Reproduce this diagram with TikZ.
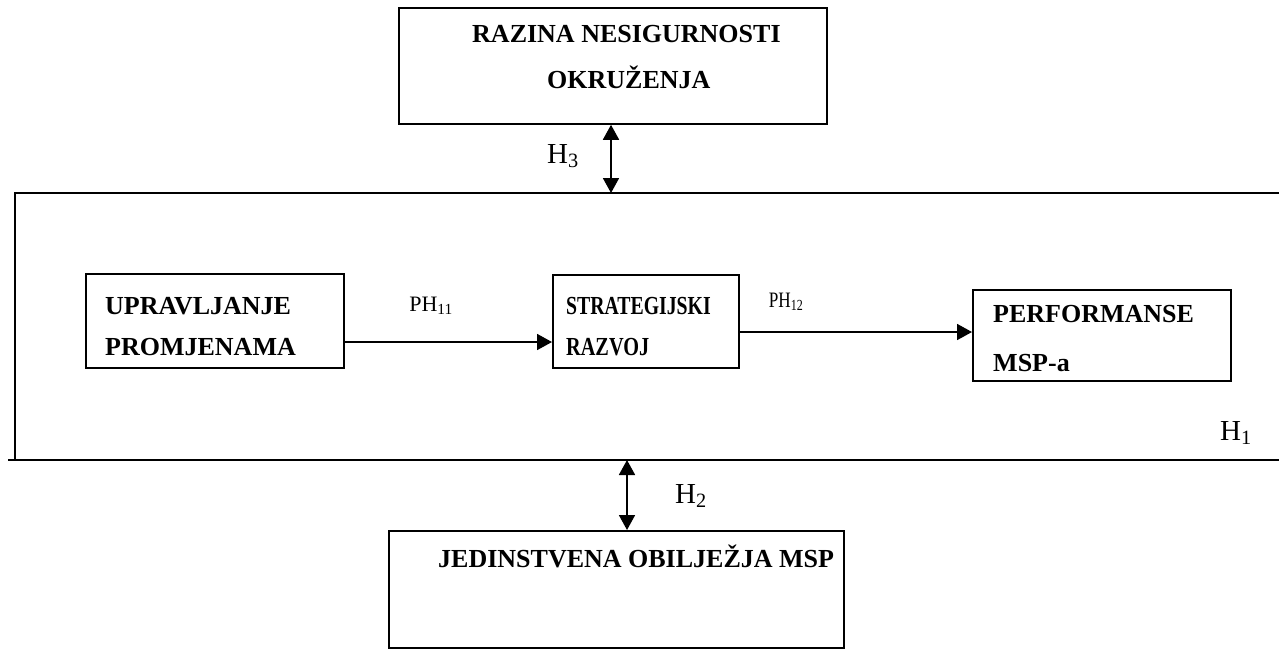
\documentclass[tikz,border=0pt]{standalone}
\usepackage{fontspec}
\setmainfont{Liberation Serif}
\usetikzlibrary{arrows.meta}
\begin{document}
\begin{tikzpicture}[x=1pt,y=-1pt,
  box/.style={draw,line width=1.8pt,rectangle,inner sep=0pt,anchor=north west},
  frame/.style={line width=1.8pt},
  lbl/.style={font=\fontsize{26}{30}\selectfont\bfseries,inner sep=0pt,anchor=base west},
  hyp/.style={font=\fontsize{29}{32}\selectfont,inner sep=0pt,anchor=base west},
  ph/.style={font=\fontsize{22}{24}\selectfont,inner sep=0pt,anchor=base},
  tip/.tip={Triangle[length=15pt,width=16pt]},
  conn/.style={line width=1.8pt,-tip},
  biconn/.style={line width=1.8pt,tip-tip}]
\useasboundingbox (0,0) rectangle (1279,649);

% boxes
\node[box,minimum width=428pt,minimum height=116pt] (env) at (398,7) {};
\node[box,minimum width=258pt,minimum height=94pt] (upr) at (85,273) {};
\node[box,minimum width=186pt,minimum height=93pt] (str) at (552,274) {};
\node[box,minimum width=258pt,minimum height=91pt] (perf) at (972,289) {};
\node[box,minimum width=455pt,minimum height=117pt] (msp) at (388,530) {};

% large frame (H1)
\coordinate (ftr) at (1279,193);
\coordinate (ftl) at (15,193);
\coordinate (fbl) at (15,460);
\coordinate (fbx) at (8,460);
\coordinate (fbr) at (1279,460);
\draw[frame] (ftr) -- (ftl) -- (fbl);
\draw[frame] (fbx) -- (fbr);

% texts
\node[lbl] (t1a) at (472,42) {RAZINA NESIGURNOSTI};
\node[lbl] (t1b) at (547,88) {OKRUŽENJA};
\node[lbl] (t2a) at (105,314) {UPRAVLJANJE};
\node[lbl] (t2b) at (105,355) {PROMJENAMA};
\node[lbl] (t3a) at (566,314) {\scalebox{0.76}[1]{STRATEGIJSKI}};
\node[lbl] (t3b) at (566,355) {\scalebox{0.78}[1]{RAZVOJ}};
\node[lbl] (t4a) at (993,322) {PERFORMANSE};
\node[lbl] (t4b) at (993,371) {MSP-a};
\node[lbl] (t5) at (438,567) {JEDINSTVENA OBILJEŽJA MSP};

% connectors
\coordinate (h3x) at (611,0);
\draw[biconn] (env.south -| h3x) -- (ftl -| h3x);
\coordinate (h2x) at (627,0);
\draw[biconn] (fbl -| h2x) -- (msp.north -| h2x);
\coordinate (ph11y) at (0,342);
\draw[conn] (upr.east |- ph11y) -- (str.west |- ph11y);
\coordinate (ph12y) at (0,332);
\draw[conn] (str.east |- ph12y) -- (perf.west |- ph12y);

% labels
\node[hyp] (h3) at (547,163) {H\textsubscript{3}};
\node[hyp] (h2) at (675,503) {H\textsubscript{2}};
\node[hyp] (h1) at (1220,440) {H\textsubscript{1}};
\node[ph] (ph11) at (431,311) {PH\textsubscript{11}};
\node[ph] (ph12) at (786,307) {\scalebox{0.78}[1]{PH\textsubscript{12}}};
\end{tikzpicture}
\end{document}
